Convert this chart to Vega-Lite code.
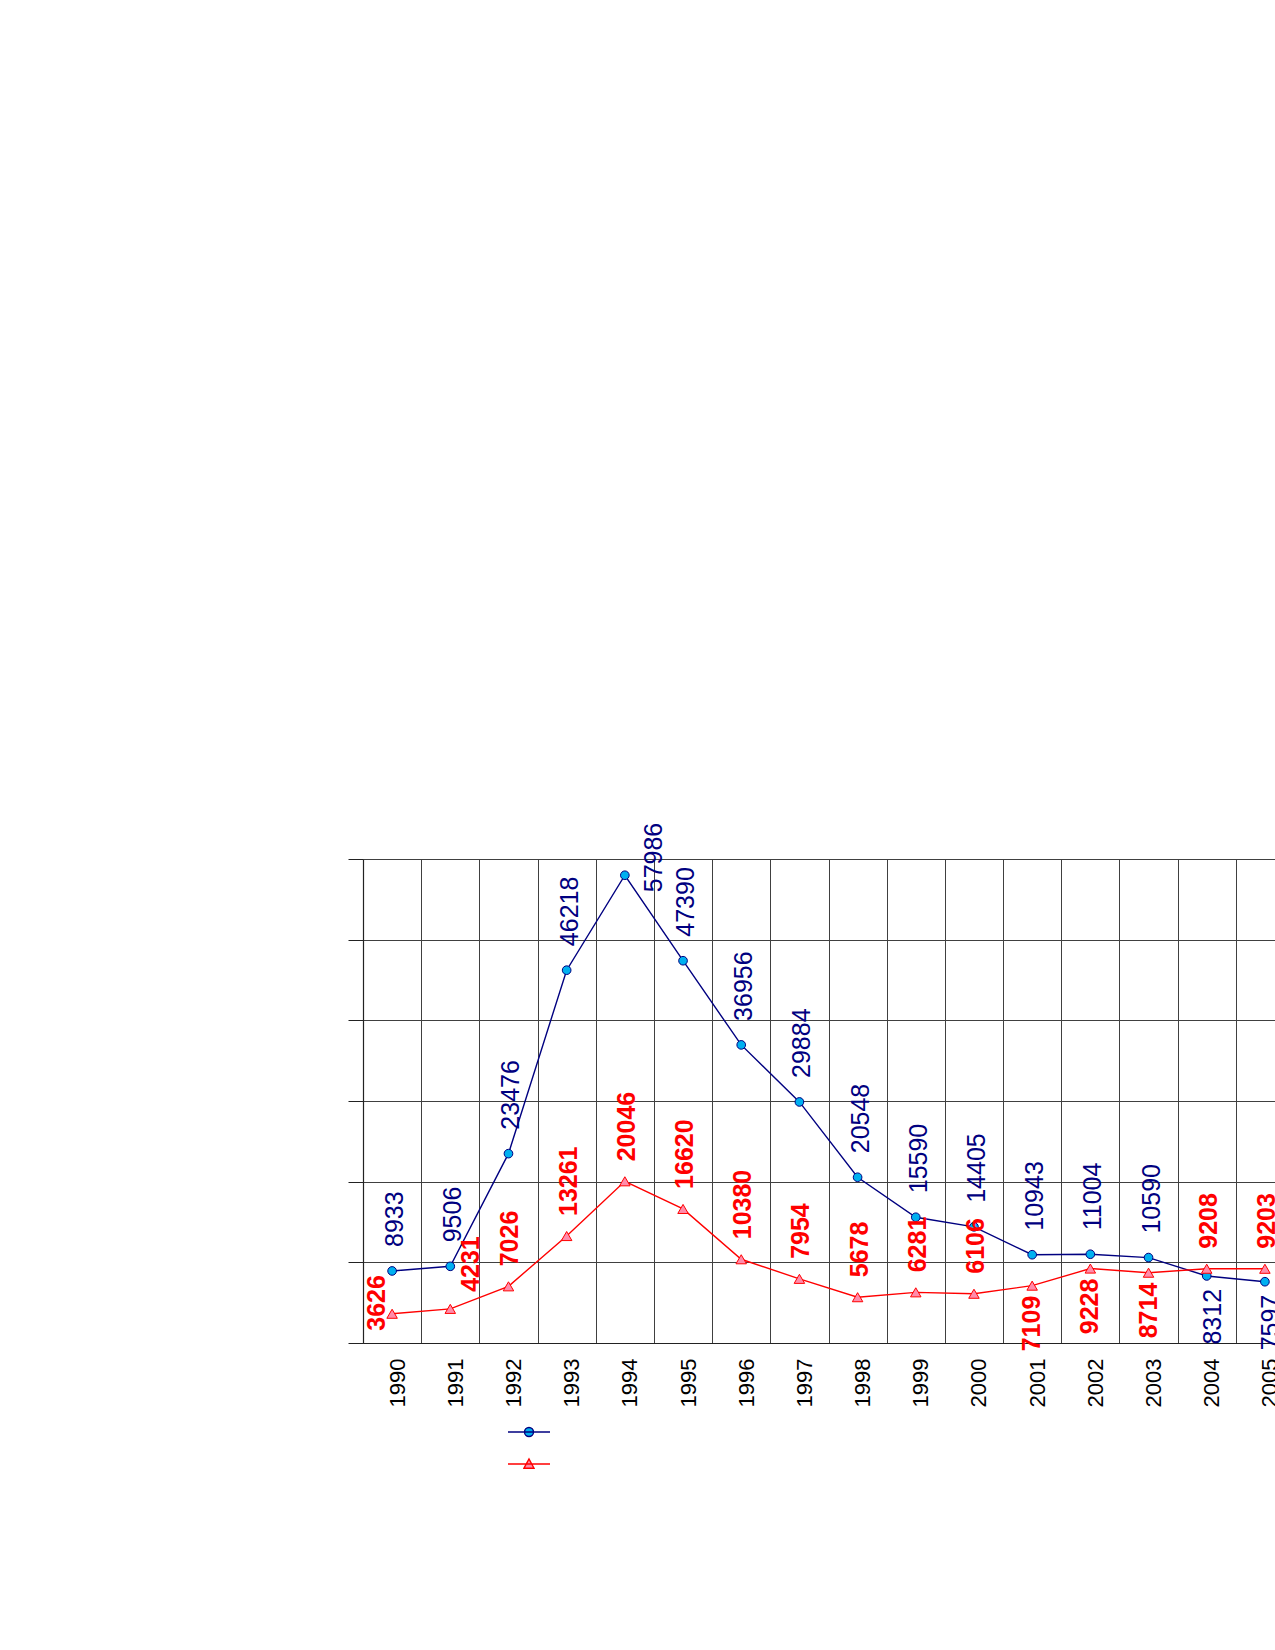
{
  "$schema": "https://vega.github.io/schema/vega-lite/v6.json",
  "autosize": {"type": "none"},
  "padding": {"left": 363, "top": 859, "right": 0, "bottom": 307},
  "width": 912,
  "height": 484,
  "background": "white",
  "config": {"view": {"stroke": null}, "font": "Liberation Sans"},
  "data": {
    "values": [
      {"year": 1990, "series": "Series 1", "value": 8933},
      {"year": 1991, "series": "Series 1", "value": 9506},
      {"year": 1992, "series": "Series 1", "value": 23476},
      {"year": 1993, "series": "Series 1", "value": 46218},
      {"year": 1994, "series": "Series 1", "value": 57986},
      {"year": 1995, "series": "Series 1", "value": 47390},
      {"year": 1996, "series": "Series 1", "value": 36956},
      {"year": 1997, "series": "Series 1", "value": 29884},
      {"year": 1998, "series": "Series 1", "value": 20548},
      {"year": 1999, "series": "Series 1", "value": 15590},
      {"year": 2000, "series": "Series 1", "value": 14405},
      {"year": 2001, "series": "Series 1", "value": 10943},
      {"year": 2002, "series": "Series 1", "value": 11004},
      {"year": 2003, "series": "Series 1", "value": 10590},
      {"year": 2004, "series": "Series 1", "value": 8312},
      {"year": 2005, "series": "Series 1", "value": 7597},
      {"year": 1990, "series": "Series 2", "value": 3626},
      {"year": 1991, "series": "Series 2", "value": 4231},
      {"year": 1992, "series": "Series 2", "value": 7026},
      {"year": 1993, "series": "Series 2", "value": 13261},
      {"year": 1994, "series": "Series 2", "value": 20046},
      {"year": 1995, "series": "Series 2", "value": 16620},
      {"year": 1996, "series": "Series 2", "value": 10380},
      {"year": 1997, "series": "Series 2", "value": 7954},
      {"year": 1998, "series": "Series 2", "value": 5678},
      {"year": 1999, "series": "Series 2", "value": 6281},
      {"year": 2000, "series": "Series 2", "value": 6106},
      {"year": 2001, "series": "Series 2", "value": 7109},
      {"year": 2002, "series": "Series 2", "value": 9228},
      {"year": 2003, "series": "Series 2", "value": 8714},
      {"year": 2004, "series": "Series 2", "value": 9208},
      {"year": 2005, "series": "Series 2", "value": 9203}
    ]
  },
  "encoding": {
    "x": {
      "field": "year",
      "type": "ordinal",
      "scale": {"type": "band", "paddingInner": 0, "paddingOuter": 0, "range": [0, 931]},
      "axis": {
        "title": null,
        "grid": true,
        "tickBand": "extent",
        "gridColor": "#404040",
        "gridWidth": 1,
        "gridOpacity": 1,
        "ticks": false,
        "domainColor": "#222222",
        "domainWidth": 1.2,
        "labelAngle": 270,
        "labelFont": "Liberation Sans",
        "labelFontSize": 22,
        "labelColor": "black",
        "labelPadding": 15,
        "labelOffset": 5
      }
    },
    "y": {
      "field": "value",
      "type": "quantitative",
      "scale": {"domain": [0, 60000], "nice": false},
      "axis": {
        "title": null,
        "values": [0, 10000, 20000, 30000, 40000, 50000, 60000],
        "labels": false,
        "grid": true,
        "gridColor": "#404040",
        "gridWidth": 1,
        "gridOpacity": 1,
        "tickSize": 15,
        "tickColor": "#222222",
        "domainColor": "#222222",
        "domainWidth": 1.2
      }
    }
  },
  "layer": [
    {
      "mark": {"type": "line", "strokeWidth": 1.4},
      "encoding": {
        "stroke": {
          "field": "series",
          "type": "nominal",
          "scale": {"domain": ["Series 1", "Series 2"], "range": ["#000080", "#ff0000"]},
          "legend": {
            "orient": "none",
            "legendX": 155,
            "legendY": 562,
            "title": null,
            "direction": "vertical",
            "labelExpr": "''",
            "labelFontSize": 1,
            "padding": 0,
            "rowPadding": 13,
            "symbolSize": 400,
            "symbolStrokeWidth": 1.4,
            "encode": {
              "symbols": {
                "update": {
                  "shape": {"signal": "datum.value === 'Series 1' ? 'M-2.1,0H2.1M-0.45,0A0.45,0.45 0 1,0 0.45,0A0.45,0.45 0 1,0 -0.45,0Z' : 'M-2.1,0H2.1M-0.5,0.42L0,-0.5L0.5,0.42Z'"},
                  "fill": {"signal": "datum.value === 'Series 1' ? '#00b0f0' : '#ff8cab'"},
                  "stroke": {"signal": "datum.value === 'Series 1' ? '#000080' : '#ff0000'"},
                  "size": {"value": 400},
                  "opacity": {"value": 1},
                  "fillOpacity": {"value": 1},
                  "strokeOpacity": {"value": 1},
                  "strokeWidth": {"value": 1.4}
                }
              }
            }
          }
        }
      }
    },
    {
      "transform": [{"filter": "datum.series === 'Series 1'"}],
      "mark": {"type": "point", "shape": "circle", "filled": true, "fill": "#00b0f0", "stroke": "#000080", "strokeWidth": 1, "size": 75, "opacity": 1}
    },
    {
      "transform": [{"filter": "datum.series === 'Series 2'"}],
      "mark": {"type": "point", "shape": "triangle-up", "filled": true, "fill": "#ff8cab", "stroke": "#ff0000", "strokeWidth": 1, "size": 110, "opacity": 1}
    },
    {
      "transform": [
        {"filter": "datum.series === 'Series 1'"},
        {"filter": {"not": {"field": "year", "oneOf": [1994, 2004, 2005]}}}
      ],
      "mark": {"type": "text", "angle": 270, "align": "left", "baseline": "middle", "dx": 24, "dy": 3, "fontSize": 25, "fill": "#000080"},
      "encoding": {"text": {"field": "value", "type": "quantitative", "format": "d"}}
    },
    {
      "transform": [
        {"filter": "datum.series === 'Series 1'"},
        {"filter": {"field": "year", "oneOf": [1994]}}
      ],
      "mark": {"type": "text", "angle": 270, "align": "left", "baseline": "middle", "dx": -17, "dy": 29, "fontSize": 25, "fill": "#000080"},
      "encoding": {"text": {"field": "value", "type": "quantitative", "format": "d"}}
    },
    {
      "transform": [
        {"filter": "datum.series === 'Series 1'"},
        {"filter": {"field": "year", "oneOf": [2004, 2005]}}
      ],
      "mark": {"type": "text", "angle": 270, "align": "right", "baseline": "middle", "dx": -13, "dy": 6, "fontSize": 25, "fill": "#000080"},
      "encoding": {"text": {"field": "value", "type": "quantitative", "format": "d"}}
    },
    {
      "transform": [
        {"filter": "datum.series === 'Series 2'"},
        {"filter": {"not": {"field": "year", "oneOf": [1990, 1991, 2001, 2002, 2003]}}}
      ],
      "mark": {"type": "text", "angle": 270, "align": "left", "baseline": "middle", "dx": 20, "dy": 2, "fontSize": 25, "fontWeight": "bold", "fill": "#ff0000"},
      "encoding": {"text": {"field": "value", "type": "quantitative", "format": "d"}}
    },
    {
      "transform": [
        {"filter": "datum.series === 'Series 2'"},
        {"filter": {"field": "year", "oneOf": [1990]}}
      ],
      "mark": {"type": "text", "angle": 270, "align": "left", "baseline": "middle", "dx": -17, "dy": -15, "fontSize": 25, "fontWeight": "bold", "fill": "#ff0000"},
      "encoding": {"text": {"field": "value", "type": "quantitative", "format": "d"}}
    },
    {
      "transform": [
        {"filter": "datum.series === 'Series 2'"},
        {"filter": {"field": "year", "oneOf": [1991]}}
      ],
      "mark": {"type": "text", "angle": 270, "align": "left", "baseline": "middle", "dx": 17, "dy": 21, "fontSize": 25, "fontWeight": "bold", "fill": "#ff0000"},
      "encoding": {"text": {"field": "value", "type": "quantitative", "format": "d"}}
    },
    {
      "transform": [
        {"filter": "datum.series === 'Series 2'"},
        {"filter": {"field": "year", "oneOf": [2001, 2002, 2003]}}
      ],
      "mark": {"type": "text", "angle": 270, "align": "right", "baseline": "middle", "dx": -10, "dy": 0, "fontSize": 25, "fontWeight": "bold", "fill": "#ff0000"},
      "encoding": {"text": {"field": "value", "type": "quantitative", "format": "d"}}
    }
  ]
}
